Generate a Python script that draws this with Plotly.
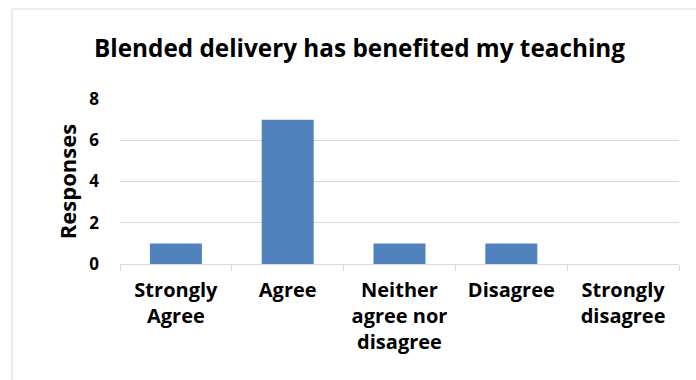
import plotly.graph_objects as go

categories = ["Strongly<br>Agree", "Agree", "Neither<br>agree nor<br>disagree", "Disagree", "Strongly<br>disagree"]
responses = [1, 7, 1, 1, 0]
y_ticks = [0, 2, 4, 6, 8]

W, H = 696, 380
L, R, T, B = 120, 17, 99, 116
pw, ph = W - L - R, H - T - B

FONT = "Open Sans"
fig = go.Figure()
fig.add_trace(go.Bar(x=categories, y=responses, marker_color="#4F81BD",
                     marker_line_width=0, hoverinfo="skip"))

fig.update_layout(
    width=W, height=H,
    margin=dict(l=L, r=R, t=T, b=B),
    paper_bgcolor="white", plot_bgcolor="white",
    bargap=0.535,
    showlegend=False,
    font=dict(family=FONT, color="#000000"),
    title=dict(text="Blended delivery has benefited my teaching",
               x=359.5 / W, xanchor="center", y=1 - 48 / H, yanchor="middle",
               font=dict(family=FONT, size=24.3, color="#000000", weight="bold")),
    xaxis=dict(type="category", showgrid=False, showline=True, linecolor="#D9D9D9",
               linewidth=1, ticks="outside", tickson="boundaries", ticklen=6,
               tickcolor="#D9D9D9",
               tickfont=dict(family=FONT, size=20, color="#000000", weight="bold"),
               ticklabelstandoff=8),
    yaxis=dict(range=[0, 8], tickvals=y_ticks, showgrid=True, gridcolor="#D9D9D9",
               gridwidth=1, zeroline=False, showline=False, ticks="",
               tickfont=dict(family=FONT, size=17, color="#000000", weight="bold"),
               ticklabelstandoff=20,
               title=dict(text="Responses",
                          font=dict(family=FONT, size=22, color="#000000", weight="bold"),
                          standoff=6)),
)

# chart-area border
fig.add_shape(type="rect", xref="paper", yref="paper",
              x0=(12 - L) / pw, x1=(W + 5 - L) / pw,
              y0=(H - B - (H + 5)) / ph, y1=(H - B - 9) / ph,
              line=dict(color="#D9D9D9", width=1), fillcolor="rgba(0,0,0,0)", layer="below")

fig.write_html("out.html", config={"displayModeBar": False},
               post_script="document.body.style.margin='0';")
